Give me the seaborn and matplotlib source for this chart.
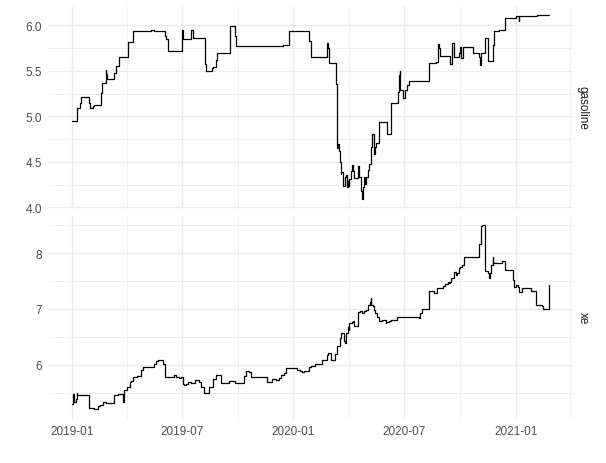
import matplotlib
matplotlib.use("Agg")
import matplotlib.pyplot as plt
import matplotlib.dates as mdates
from matplotlib.ticker import MultipleLocator, FormatStrFormatter
import seaborn as sns
import pandas as pd

# gasoline price series (change points, value holds until next date)
gas_dates = [
    "2019-01-01", "2019-01-09", "2019-01-14", "2019-01-16", "2019-01-29", "2019-01-31",
    "2019-02-04", "2019-02-06", "2019-02-18", "2019-02-20", "2019-02-26", "2019-02-27",
    "2019-02-28", "2019-03-12", "2019-03-14", "2019-03-20", "2019-04-03", "2019-04-11",
    "2019-05-12", "2019-05-17", "2019-06-03", "2019-06-05", "2019-06-09", "2019-07-01",
    "2019-07-03", "2019-07-17", "2019-07-19", "2019-08-08", "2019-08-10", "2019-08-19",
    "2019-08-22", "2019-08-26", "2019-08-28", "2019-09-18", "2019-09-26", "2019-09-28",
    "2019-12-14", "2019-12-24", "2020-01-27", "2020-01-29", "2020-02-25", "2020-02-26",
    "2020-02-29", "2020-03-11", "2020-03-12", "2020-03-13", "2020-03-14", "2020-03-16",
    "2020-03-17", "2020-03-19", "2020-03-20", "2020-03-23", "2020-03-25", "2020-03-27",
    "2020-03-29", "2020-03-30", "2020-04-01", "2020-04-02", "2020-04-05", "2020-04-06",
    "2020-04-08", "2020-04-10", "2020-04-17", "2020-04-18", "2020-04-21", "2020-04-23",
    "2020-04-24", "2020-04-26", "2020-04-28", "2020-04-30", "2020-05-02", "2020-05-05",
    "2020-05-07", "2020-05-09", "2020-05-10", "2020-05-13", "2020-05-15", "2020-05-16",
    "2020-05-20", "2020-06-03", "2020-06-09", "2020-06-21", "2020-06-22", "2020-06-24",
    "2020-06-25", "2020-06-30", "2020-07-02", "2020-07-06", "2020-07-09", "2020-08-11",
    "2020-08-22", "2020-08-26", "2020-08-27", "2020-08-29", "2020-09-14", "2020-09-18",
    "2020-09-21", "2020-09-29", "2020-10-01", "2020-10-03", "2020-10-06", "2020-10-23",
    "2020-11-01", "2020-11-03", "2020-11-05", "2020-11-11", "2020-11-16", "2020-11-24",
    "2020-11-26", "2020-12-04", "2020-12-14", "2021-01-01", "2021-01-06", "2021-01-07",
    "2021-02-05", "2021-02-25",
]
gas_values = [
    4.95, 5.09, 5.15, 5.21, 5.15, 5.09,
    5.11, 5.13, 5.26, 5.37, 5.51, 5.46,
    5.41, 5.48, 5.55, 5.65, 5.82, 5.94,
    5.95, 5.94, 5.88, 5.85, 5.72, 5.95,
    5.85, 5.95, 5.86, 5.57, 5.50, 5.53,
    5.54, 5.62, 5.70, 5.99, 5.88, 5.77,
    5.78, 5.94, 5.83, 5.65, 5.81, 5.75,
    5.59, 5.35, 5.09, 4.65, 4.70, 4.62,
    4.50, 4.37, 4.39, 4.24, 4.33, 4.36,
    4.22, 4.29, 4.24, 4.31, 4.40, 4.47,
    4.40, 4.32, 4.45, 4.33, 4.18, 4.09,
    4.22, 4.33, 4.26, 4.33, 4.41, 4.48,
    4.66, 4.73, 4.81, 4.59, 4.66, 4.71,
    4.94, 4.81, 5.15, 5.27, 5.45, 5.50,
    5.29, 5.20, 5.29, 5.34, 5.39, 5.59,
    5.60, 5.79, 5.75, 5.66, 5.58, 5.81,
    5.65, 5.70, 5.76, 5.64, 5.76, 5.69,
    5.65, 5.56, 5.70, 5.86, 5.61, 5.78,
    5.94, 5.95, 6.08, 6.10, 6.05, 6.10,
    6.11, 6.11,
]

# exchange rate series
xe_dates = [
    "2019-01-01", "2019-01-03", "2019-01-05", "2019-01-07", "2019-01-09", "2019-01-10",
    "2019-01-29", "2019-02-06", "2019-02-13", "2019-02-16", "2019-02-21", "2019-02-27",
    "2019-03-12", "2019-03-18", "2019-03-26", "2019-03-28", "2019-04-01", "2019-04-06",
    "2019-04-09", "2019-04-11", "2019-04-14", "2019-04-19", "2019-04-25", "2019-04-28",
    "2019-05-15", "2019-05-17", "2019-05-20", "2019-05-23", "2019-05-31", "2019-06-04",
    "2019-06-18", "2019-06-21", "2019-06-25", "2019-06-27", "2019-06-30", "2019-07-03",
    "2019-07-05", "2019-07-08", "2019-07-11", "2019-07-16", "2019-07-22", "2019-07-30",
    "2019-08-02", "2019-08-07", "2019-08-15", "2019-08-21", "2019-08-26", "2019-09-04",
    "2019-09-17", "2019-09-23", "2019-09-27", "2019-10-01", "2019-10-11", "2019-10-15",
    "2019-10-20", "2019-10-23", "2019-11-18", "2019-11-26", "2019-12-03", "2019-12-08",
    "2019-12-12", "2019-12-17", "2019-12-19", "2020-01-07", "2020-01-12", "2020-01-15",
    "2020-01-18", "2020-01-26", "2020-01-29", "2020-02-06", "2020-02-17", "2020-02-25",
    "2020-02-27", "2020-03-02", "2020-03-10", "2020-03-12", "2020-03-18", "2020-03-20",
    "2020-03-24", "2020-03-26", "2020-03-28", "2020-03-31", "2020-04-01", "2020-04-02",
    "2020-04-06", "2020-04-08", "2020-04-09", "2020-04-16", "2020-04-19", "2020-04-23",
    "2020-04-26", "2020-04-30", "2020-05-03", "2020-05-06", "2020-05-07", "2020-05-08",
    "2020-05-11", "2020-05-12", "2020-05-15", "2020-05-18", "2020-05-20", "2020-05-26",
    "2020-06-01", "2020-06-02", "2020-06-06", "2020-06-09", "2020-06-19", "2020-06-23",
    "2020-06-25", "2020-07-01", "2020-07-06", "2020-07-20", "2020-07-25", "2020-07-28",
    "2020-07-30", "2020-08-11", "2020-08-19", "2020-08-24", "2020-09-03", "2020-09-07",
    "2020-09-11", "2020-09-13", "2020-09-15", "2020-09-17", "2020-09-21", "2020-09-22",
    "2020-09-24", "2020-09-26", "2020-09-29", "2020-10-02", "2020-10-04", "2020-10-07",
    "2020-10-16", "2020-11-02", "2020-11-04", "2020-11-05", "2020-11-07", "2020-11-11",
    "2020-11-16", "2020-11-18", "2020-11-20", "2020-11-22", "2020-11-24", "2020-11-25",
    "2020-12-09", "2020-12-15", "2020-12-27", "2020-12-29", "2021-01-01", "2021-01-04",
    "2021-01-06", "2021-01-12", "2021-01-26", "2021-02-03", "2021-02-14", "2021-02-15",
    "2021-02-24", "2021-02-25",
]
xe_values = [
    5.30, 5.48, 5.33, 5.39, 5.49, 5.46,
    5.23, 5.20, 5.26, 5.28, 5.33, 5.31,
    5.45, 5.47, 5.33, 5.54, 5.60, 5.69,
    5.71, 5.77, 5.78, 5.79, 5.90, 5.95,
    5.96, 6.02, 6.06, 6.09, 6.02, 5.77,
    5.81, 5.77, 5.78, 5.76, 5.78, 5.66,
    5.63, 5.66, 5.69, 5.68, 5.72, 5.69,
    5.60, 5.49, 5.60, 5.75, 5.81, 5.67,
    5.70, 5.71, 5.67, 5.68, 5.79, 5.89,
    5.86, 5.77, 5.69, 5.74, 5.73, 5.76,
    5.81, 5.85, 5.94, 5.91, 5.88, 5.86,
    5.89, 5.96, 5.98, 6.02, 6.08, 6.17,
    6.21, 6.08, 6.20, 6.34, 6.47, 6.56,
    6.43, 6.39, 6.56, 6.68, 6.63, 6.74,
    6.76, 6.79, 6.69, 6.94, 6.96, 6.93,
    6.96, 6.98, 7.07, 7.13, 7.20, 7.07,
    7.06, 6.98, 6.92, 6.86, 6.78, 6.81,
    6.74, 6.77, 6.78, 6.80, 6.86, 6.85,
    6.86, 6.85, 6.86, 6.85, 6.84, 6.92,
    6.99, 7.33, 7.28, 7.37, 7.41, 7.45,
    7.48, 7.47, 7.49, 7.55, 7.61, 7.67,
    7.60, 7.64, 7.73, 7.75, 7.79, 7.94,
    7.93, 8.17, 8.42, 8.48, 8.51, 7.68,
    7.64, 7.55, 7.64, 7.79, 7.93, 7.83,
    7.86, 7.69, 7.52, 7.39, 7.42, 7.40,
    7.31, 7.37, 7.33, 7.07, 7.05, 6.99,
    7.22, 7.42,
]

panels = ["gasoline", "xe"]

gas = pd.DataFrame({"date": pd.to_datetime(gas_dates), "value": gas_values})
xe = pd.DataFrame({"date": pd.to_datetime(xe_dates), "value": xe_values})
data = {"gasoline": gas, "xe": xe}

sns.set_style("white")
plt.rcParams["font.family"] = ["Liberation Sans", "DejaVu Sans"]

fig = plt.figure(figsize=(6.06, 4.64), dpi=100)
W, H = 606, 464
left, right = 48, 573
boxes = [(7, 209.5), (216.5, 419.5)]

grid_col = "#EBEBEB"
for name, (top, bottom) in zip(panels, boxes):
    ax = fig.add_axes([left / W, 1 - bottom / H, (right - left) / W, (bottom - top) / H])
    df = data[name]
    sns.lineplot(data=df, x="date", y="value", ax=ax, color="black", lw=0.9,
                 drawstyle="steps-post", estimator=None)
    ax.margins(x=0.05, y=0.05)

    ax.xaxis.set_major_locator(mdates.MonthLocator(bymonth=[1, 7]))
    ax.xaxis.set_minor_locator(mdates.MonthLocator(bymonth=[4, 10]))
    ax.xaxis.set_major_formatter(mdates.DateFormatter("%Y-%m"))
    if name == "gasoline":
        ax.yaxis.set_major_locator(MultipleLocator(0.5))
        ax.yaxis.set_minor_locator(MultipleLocator(0.25))
        ax.yaxis.set_major_formatter(FormatStrFormatter("%.1f"))
        ax.tick_params(axis="x", labelbottom=False)
    else:
        ax.yaxis.set_major_locator(MultipleLocator(1))
        ax.yaxis.set_minor_locator(MultipleLocator(0.5))
        ax.yaxis.set_major_formatter(FormatStrFormatter("%d"))

    ax.grid(True, which="major", color=grid_col, lw=1.0)
    ax.grid(True, which="minor", color=grid_col, lw=0.55)
    ax.set_axisbelow(True)
    for s in ax.spines.values():
        s.set_visible(False)
    ax.tick_params(which="both", length=0, labelsize=8.5, labelcolor="#4D4D4D")
    ax.tick_params(axis="y", pad=4.5)
    ax.tick_params(axis="x", pad=5)
    ax.set_xlabel("")
    ax.set_ylabel("")

    # facet strip label on the right
    ax.text(1.019, 0.5, name, transform=ax.transAxes, rotation=270,
            ha="center", va="center", fontsize=8.5, color="#1A1A1A")

fig.savefig("out.png", dpi=100)
